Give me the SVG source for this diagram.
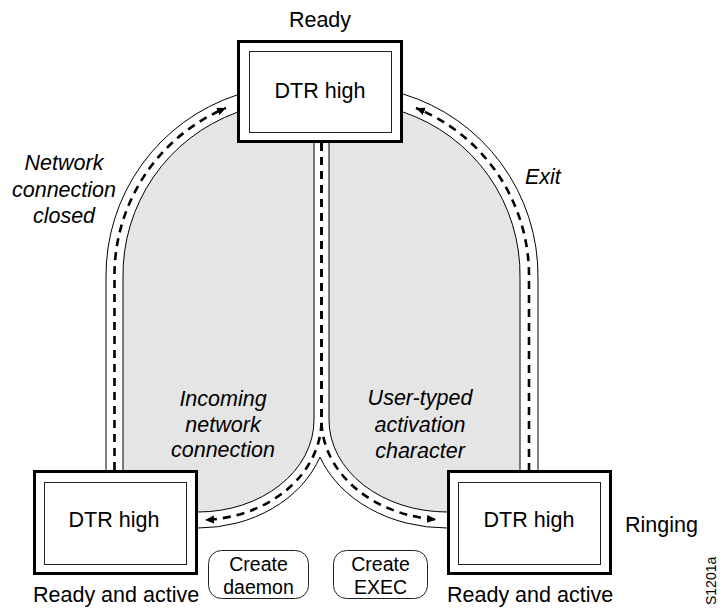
<svg xmlns="http://www.w3.org/2000/svg" width="728" height="608" viewBox="0 0 728 608">
<style>
text{font-family:"Liberation Sans",Arial,sans-serif;font-size:21.5px;fill:#000}
.it{font-style:italic}
.c{text-anchor:middle}
.sm{font-size:19.5px}
.gray{fill:#e5e5e5;stroke:none}
.edge{fill:none;stroke:#000;stroke-width:1}
.dash{fill:none;stroke:#000;stroke-width:2.6;stroke-dasharray:8 6;marker-end:url(#ah)}
.outer{fill:#fff;stroke:#000;stroke-width:3}
.inner{fill:#fff;stroke:#222;stroke-width:1}
.pill{fill:#fff;stroke:#222;stroke-width:1}
</style>
<defs>
<marker id="ah" markerUnits="userSpaceOnUse" markerWidth="10" markerHeight="9" refX="9" refY="4" orient="auto">
<path d="M0,0 L9,4 L0,8 z" fill="#000"/>
</marker>
</defs>
<g id="regions">
<path class="gray" d="M123,470 L123,278 A173,173 0 0 1 237,112.4 L237,143 L314,143 L314,420 A116,92 0 0 1 198,512 L198,470 Z"/>
<path class="gray" d="M520,471 L520,278 A172,172 0 0 0 403,112 L403,143 L329,143 L329,420 A118,92 0 0 0 447,512 L447,471 Z"/>
</g>
<g id="connectors">
<path class="edge" d="M106,470 V278 A190,190 0 0 1 237,95"/>
<path class="edge" d="M123,470 V278 A173,173 0 0 1 237,112.4"/>
<path class="edge" d="M538,471 V278 A190,190 0 0 0 403,94"/>
<path class="edge" d="M520,471 V278 A172,172 0 0 0 403,112"/>
<path class="edge" d="M314,143 V420 A116,92 0 0 1 198,512"/>
<path class="edge" d="M329,143 V420 A118,92 0 0 0 447,512"/>
<path class="edge" d="M198,528 A130,108 0 0 0 320,457 A135,108 0 0 0 447,528"/>
<path class="dash" d="M114.5,470 V278 A181.5,181.5 0 0 1 226,108"/>
<path class="dash" d="M529,471 V278 A181,181 0 0 0 416,108"/>
<path class="dash" d="M321.5,143 V420 A123,100 0 0 1 205,520"/>
<path class="dash" d="M321.5,143 V420 A126,100 0 0 0 436,519.5"/>
</g>
<g id="node-ready">
<rect class="outer" x="238.5" y="41.5" width="163" height="100"/>
<rect class="inner" x="249.5" y="51.5" width="142" height="81"/>
<text class="c" x="320" y="98">DTR high</text>
<text class="c" x="320" y="27">Ready</text>
</g>
<g id="node-left">
<rect class="outer" x="34.5" y="471.5" width="162" height="102"/>
<rect class="inner" x="44.5" y="482.5" width="142" height="82"/>
<text class="c" x="114" y="527">DTR high</text>
<text x="33" y="601.5">Ready and active</text>
</g>
<g id="node-right">
<rect class="outer" x="448.5" y="471.5" width="162" height="102"/>
<rect class="inner" x="458.5" y="482.5" width="142" height="82"/>
<text class="c" x="529" y="527">DTR high</text>
<text x="447" y="601.5">Ready and active</text>
<text x="625" y="532">Ringing</text>
</g>
<g id="node-daemon">
<rect class="pill" x="208.5" y="550.5" width="100" height="48" rx="13" ry="13"/>
<text class="c sm" x="258.5" y="571">Create</text>
<text class="c sm" x="258.5" y="593.5">daemon</text>
</g>
<g id="node-exec">
<rect class="pill" x="333.5" y="550.5" width="94" height="48" rx="13" ry="13"/>
<text class="c sm" x="380.5" y="571">Create</text>
<text class="c sm" x="380.5" y="593.5">EXEC</text>
</g>
<g id="labels">
<text class="it c" x="64" y="170">Network</text>
<text class="it c" x="64" y="197">connection</text>
<text class="it c" x="64" y="223">closed</text>
<text class="it" x="525" y="184">Exit</text>
<text class="it c" x="223" y="406">Incoming</text>
<text class="it c" x="223" y="432">network</text>
<text class="it c" x="223" y="457">connection</text>
<text class="it c" x="420" y="405">User-typed</text>
<text class="it c" x="420" y="432">activation</text>
<text class="it c" x="420" y="458">character</text>
<text x="0" y="0" style="font-size:14px" transform="translate(716,605) rotate(-90)">S1201a</text>
</g>
</svg>
